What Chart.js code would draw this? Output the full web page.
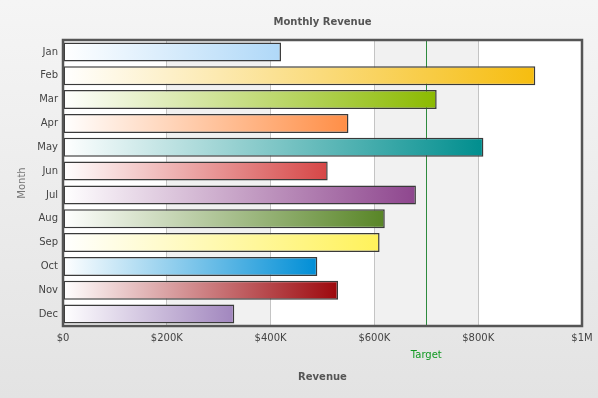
<!DOCTYPE html>
<html>
<head>
<meta charset="utf-8">
<title>Monthly Revenue</title>
<script src="https://cdn.jsdelivr.net/npm/chart.js@4"></script>
<style>
  html, body { margin: 0; padding: 0; background: #eee; }
  canvas { display: block; }
</style>
</head>
<body>
<canvas id="myChart" width="598" height="398"></canvas>
<script>
var months = ["Jan", "Feb", "Mar", "Apr", "May", "Jun", "Jul", "Aug", "Sep", "Oct", "Nov", "Dec"];
var revenue = [420000, 910000, 720000, 550000, 810000, 510000, 680000, 620000, 610000, 490000, 530000, 330000];
var barColors = ["#AFD8F8", "#F6BD0F", "#8BBA00", "#FF8E46", "#008E8E", "#D64646",
                 "#8E468E", "#588526", "#FFF25A", "#008ED6", "#9D080D", "#A186BE"];
var xTickValues = [0, 200000, 400000, 600000, 800000, 1000000];
var targetValue = 700000;
var targetLabel = "Target";

var FONT = "'DejaVu Sans', Verdana, sans-serif";

function money(v) {
  if (v === 0) return "$0";
  if (v >= 1000000) return "$" + (v / 1000000) + "M";
  return "$" + (v / 1000) + "K";
}

// page background, plot bands, target line, frame and chart title
var decor = {
  id: "decor",
  beforeDraw: function (chart) {
    var ctx = chart.ctx;
    var area = chart.chartArea;
    var x = chart.scales.x;
    var bg = ctx.createLinearGradient(0, 0, 0, chart.height);
    bg.addColorStop(0, "#f5f5f5");
    bg.addColorStop(1, "#e3e3e3");
    ctx.save();
    ctx.fillStyle = bg;
    ctx.fillRect(0, 0, chart.width, chart.height);
    ctx.fillStyle = "#ffffff";
    ctx.fillRect(area.left, area.top, area.right - area.left, area.bottom - area.top);
    ctx.fillStyle = "#f1f1f1";
    for (var i = 1; i < xTickValues.length - 1; i += 2) {
      var a = x.getPixelForValue(xTickValues[i]);
      var b = x.getPixelForValue(xTickValues[i + 1]);
      ctx.fillRect(a, area.top, b - a, area.bottom - area.top);
    }
    ctx.restore();
  },
  beforeDatasetsDraw: function (chart) {
    var ctx = chart.ctx;
    var area = chart.chartArea;
    var tx = Math.round(chart.scales.x.getPixelForValue(targetValue)) + 0.5;
    ctx.save();
    ctx.strokeStyle = "#2e8b3e";
    ctx.lineWidth = 1;
    ctx.beginPath();
    ctx.moveTo(tx, area.top);
    ctx.lineTo(tx, area.bottom);
    ctx.stroke();
    ctx.restore();
  },
  afterDraw: function (chart) {
    var ctx = chart.ctx;
    var area = chart.chartArea;
    ctx.save();
    ctx.strokeStyle = "#555555";
    ctx.lineWidth = 2.5;
    ctx.strokeRect(area.left, area.top, area.right - area.left, area.bottom - area.top);

    ctx.textAlign = "center";
    ctx.textBaseline = "middle";
    ctx.fillStyle = "#119922";
    ctx.font = "10px " + FONT;
    ctx.fillText(targetLabel, chart.scales.x.getPixelForValue(targetValue), 355);

    ctx.fillStyle = "#555555";
    ctx.font = "bold 10px " + FONT;
    ctx.fillText("Monthly Revenue", (area.left + area.right) / 2, 22);
    ctx.restore();
  }
};

var ctx = document.getElementById("myChart").getContext("2d");
var myChart = new Chart(ctx, {
  type: "bar",
  data: {
    labels: months,
    datasets: [
      {
        label: "Revenue",
        data: revenue,
        backgroundColor: function (context) {
          var chart = context.chart;
          var area = chart.chartArea;
          var color = barColors[context.dataIndex];
          if (!area) return color;
          var end = chart.scales.x.getPixelForValue(revenue[context.dataIndex]);
          var g = chart.ctx.createLinearGradient(area.left, 0, end, 0);
          g.addColorStop(0, "#ffffff");
          g.addColorStop(1, color);
          return g;
        },
        borderColor: "#3a3a3a",
        borderWidth: 1.5,
        borderSkipped: false,
        barPercentage: 0.8,
        categoryPercentage: 1
      }
    ]
  },
  options: {
    indexAxis: "y",
    responsive: false,
    devicePixelRatio: 1,
    animation: false,
    layout: { padding: { top: 40, right: 16, left: 0, bottom: 0 } },
    plugins: {
      legend: { display: false },
      tooltip: { enabled: false },
      title: { display: false }
    },
    scales: {
      x: {
        min: 0,
        max: 1000000,
        afterBuildTicks: function (scale) {
          scale.ticks = xTickValues.map(function (v) { return { value: v }; });
        },
        afterFit: function (scale) {
          scale.height = 72;
          scale.paddingLeft = 0;
          scale.paddingRight = 0;
        },
        border: { display: false },
        grid: {
          drawTicks: false,
          color: function (c) {
            var v = c.tick ? c.tick.value : 0;
            return (v === 0 || v === 1000000) ? "rgba(0,0,0,0)" : "#c4c4c4";
          },
          lineWidth: 1
        },
        ticks: {
          padding: 6,
          color: "#444444",
          font: { family: FONT, size: 10 },
          maxRotation: 0,
          callback: function (v) { return money(v); }
        },
        title: {
          display: true,
          text: "Revenue",
          color: "#555555",
          font: { family: FONT, size: 10, weight: "bold" },
          padding: { top: 0, bottom: 15 }
        }
      },
      y: {
        afterFit: function (scale) { scale.width = 63; },
        border: { display: false },
        grid: { display: false, drawTicks: false },
        ticks: {
          padding: 5,
          color: "#444444",
          font: { family: FONT, size: 10 }
        },
        title: {
          display: true,
          text: "Month",
          color: "#777777",
          font: { family: FONT, size: 10 },
          padding: { top: 16, bottom: 0 }
        }
      }
    }
  },
  plugins: [decor]
});
</script>
</body>
</html>
